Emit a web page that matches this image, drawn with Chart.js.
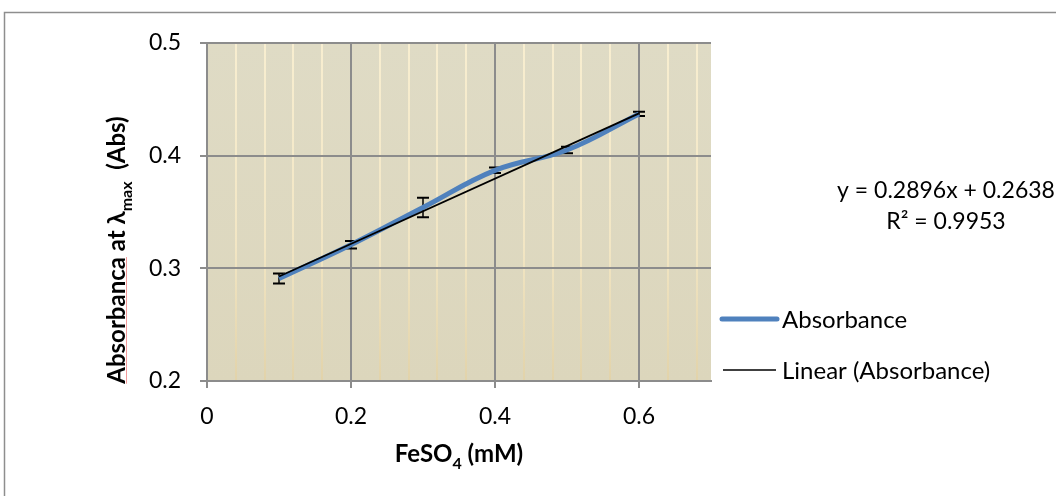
<!DOCTYPE html>
<html>
<head>
<meta charset="utf-8">
<title>Absorbance at λmax vs FeSO4</title>
<script src="https://cdn.jsdelivr.net/npm/chart.js@4.4.1/dist/chart.umd.min.js"></script>
<style>
  html, body { margin: 0; padding: 0; background: #fff; }
  #wrap { width: 1056px; height: 496px; position: relative; }
</style>
</head>
<body>
<div id="wrap"><canvas id="myChart" width="1056" height="496"></canvas></div>
<script>
// FeSO4 standard curve
var concentration = [0.1, 0.2, 0.3, 0.4, 0.5, 0.6];
var absorbance = [0.291, 0.321, 0.354, 0.387, 0.405, 0.437];
var errorBars = [0.0045, 0.0033, 0.0086, 0.0024, 0.0029, 0.0019];

// linear fit reported on the chart
var slope = 0.2896;
var intercept = 0.2638;
var rSquared = 0.9953;

var xTicks = [0, 0.04, 0.08, 0.12, 0.16, 0.2, 0.24, 0.28, 0.32, 0.36, 0.4, 0.44, 0.48, 0.52, 0.56, 0.6, 0.64, 0.68];
var xLabels = [0, 0.2, 0.4, 0.6];
var yTicks = [0.2, 0.3, 0.4, 0.5];

var FONT = "Lato, 'Noto Sans', 'DejaVu Sans', sans-serif";
var GRID_GREY = "#8c8c8c";

function isMajor(v) {
  return xLabels.some(function(m) { return Math.abs(m - v) < 1e-9; });
}

// measure + draw text runs with subscripts
function runsWidth(ctx, runs, size, subSize) {
  var w = 0;
  runs.forEach(function(r) {
    ctx.font = "bold " + (r.sub ? subSize : size) + "px " + FONT;
    w += ctx.measureText(r.t).width;
  });
  return w;
}
function drawRuns(ctx, runs, x, y, size, subSize) {
  runs.forEach(function(r) {
    ctx.font = "bold " + (r.sub ? subSize : size) + "px " + FONT;
    ctx.fillText(r.t, x, r.sub ? y + size * 0.28 : y);
    x += ctx.measureText(r.t).width;
  });
}

var fitLine = [
  { x: concentration[0], y: slope * concentration[0] + intercept },
  { x: concentration[concentration.length - 1], y: slope * concentration[concentration.length - 1] + intercept }
];

var extras = {
  id: "extras",
  beforeDraw: function(chart) {
    var ctx = chart.ctx, a = chart.chartArea;
    var g = ctx.createLinearGradient(0, a.top, 0, a.bottom);
    g.addColorStop(0, "#dfdbc5");
    g.addColorStop(1, "#dcd6bc");
    ctx.save();
    ctx.fillStyle = "#fff";
    ctx.fillRect(0, 0, chart.width, chart.height);
    ctx.fillStyle = g;
    ctx.fillRect(a.left, a.top, a.right - a.left, a.bottom - a.top);
    ctx.restore();
  },
  beforeDatasetsDraw: function(chart) {
    var ctx = chart.ctx, xs = chart.scales.x, ys = chart.scales.y;
    ctx.save();
    ctx.strokeStyle = "#000";
    for (var i = 0; i < concentration.length; i++) {
      var px = xs.getPixelForValue(concentration[i]);
      var top = ys.getPixelForValue(absorbance[i] + errorBars[i]);
      var bot = ys.getPixelForValue(absorbance[i] - errorBars[i]);
      ctx.lineWidth = 1.5;
      ctx.beginPath();
      ctx.moveTo(px, top); ctx.lineTo(px, bot);
      ctx.stroke();
      ctx.lineWidth = 2;
      ctx.beginPath();
      ctx.moveTo(px - 6, top); ctx.lineTo(px + 6, top);
      ctx.moveTo(px - 6, bot); ctx.lineTo(px + 6, bot);
      ctx.stroke();
    }
    ctx.restore();
  },
  afterDraw: function(chart) {
    var ctx = chart.ctx, a = chart.chartArea;
    ctx.save();

    // outer frame
    ctx.strokeStyle = "#8e8e8e";
    ctx.lineWidth = 1.5;
    ctx.beginPath();
    ctx.moveTo(4.5, chart.height);
    ctx.lineTo(4.5, 12.5);
    ctx.lineTo(chart.width, 12.5);
    ctx.stroke();

    ctx.fillStyle = "#000";
    ctx.textBaseline = "alphabetic";

    // x axis title
    var xRuns = [{ t: "FeSO" }, { t: "4", sub: true }, { t: " (mM)" }];
    var xw = runsWidth(ctx, xRuns, 24, 16);
    drawRuns(ctx, xRuns, (a.left + a.right) / 2 - xw / 2, 462, 24, 16);

    // y axis title
    var yRuns = [{ t: "Absorbanca at λ" }, { t: "max", sub: true }, { t: "  (Abs)" }];
    var yw = runsWidth(ctx, yRuns, 24, 16);
    ctx.save();
    ctx.translate(125, 250);
    ctx.rotate(-Math.PI / 2);
    drawRuns(ctx, yRuns, -yw / 2, 0, 24, 16);
    ctx.font = "bold 24px " + FONT;
    var uw = ctx.measureText("Absorbanca").width;
    ctx.strokeStyle = "#f29a9a";
    ctx.lineWidth = 1;
    ctx.beginPath();
    ctx.moveTo(-yw / 2, 1.5);
    ctx.lineTo(-yw / 2 + uw, 1.5);
    ctx.stroke();
    ctx.restore();

    // legend
    var lx = a.right + 11;
    ctx.font = "24px " + FONT;
    ctx.textBaseline = "middle";
    ctx.lineCap = "round";
    ctx.strokeStyle = chart.data.datasets[1].borderColor;
    ctx.lineWidth = 5;
    ctx.beginPath();
    ctx.moveTo(lx, 319); ctx.lineTo(lx + 55, 319);
    ctx.stroke();
    ctx.fillText(chart.data.datasets[1].label, lx + 60, 320);
    ctx.lineCap = "butt";
    ctx.strokeStyle = chart.data.datasets[0].borderColor;
    ctx.lineWidth = 1.5;
    ctx.beginPath();
    ctx.moveTo(lx + 1, 370); ctx.lineTo(lx + 54, 370);
    ctx.stroke();
    ctx.fillText(chart.data.datasets[0].label, lx + 60, 371);

    // fit equation
    ctx.font = "23px " + FONT;
    ctx.textAlign = "center";
    ctx.fillText("y = " + slope.toFixed(4) + "x + " + intercept.toFixed(4), 946, 191);
    ctx.fillText("R² = " + rSquared.toFixed(4), 946, 222);
    ctx.restore();
  }
};

Chart.defaults.font.family = FONT;
Chart.defaults.animation = false;

var chart = new Chart(document.getElementById("myChart"), {
  type: "scatter",
  data: {
    datasets: [
      {
        label: "Linear (Absorbance)",
        data: fitLine,
        showLine: true,
        borderColor: "#000",
        borderWidth: 1.8,
        pointRadius: 0,
        order: 0
      },
      {
        label: "Absorbance",
        data: concentration.map(function(c, i) { return { x: c, y: absorbance[i] }; }),
        showLine: true,
        borderColor: "#4f81bd",
        borderWidth: 5,
        tension: 0.4,
        pointRadius: 0,
        order: 1
      }
    ]
  },
  options: {
    responsive: false,
    maintainAspectRatio: false,
    devicePixelRatio: 1,
    layout: { padding: { left: 0, top: 43, right: 345, bottom: 0 } },
    plugins: {
      legend: { display: false },
      tooltip: { enabled: false }
    },
    scales: {
      x: {
        type: "linear",
        min: 0,
        max: 0.7,
        afterBuildTicks: function(scale) {
          scale.ticks = xTicks.map(function(v) { return { value: v }; });
        },
        afterFit: function(scale) { scale.height = 115; },
        border: { display: true, color: GRID_GREY, width: 2 },
        grid: {
          lineWidth: 2,
          tickLength: 7,
          color: function(c) {
            if (!c.tick) return GRID_GREY;
            if (isMajor(c.tick.value)) return GRID_GREY;
            var a = c.chart.chartArea;
            if (!a) return "#f5ebcf";
            var g = c.chart.ctx.createLinearGradient(0, a.top, 0, a.bottom);
            g.addColorStop(0, "#f8eed0");
            g.addColorStop(0.6, "#f2e6c4");
            g.addColorStop(1, "#e2d3aa");
            return g;
          },
          tickColor: function(c) {
            return c.tick && isMajor(c.tick.value) ? GRID_GREY : "rgba(0,0,0,0)";
          }
        },
        ticks: {
          autoSkip: false,
          maxRotation: 0,
          padding: 15,
          color: "#000",
          font: { size: 23 },
          callback: function(v) { return isMajor(v) ? String(+v.toFixed(1)) : ""; }
        }
      },
      y: {
        type: "linear",
        min: 0.2,
        max: 0.5,
        afterBuildTicks: function(scale) {
          scale.ticks = yTicks.map(function(v) { return { value: v }; });
        },
        afterFit: function(scale) { scale.width = 207; },
        border: { display: true, color: GRID_GREY, width: 2 },
        grid: { color: GRID_GREY, lineWidth: 2, tickLength: 7 },
        ticks: {
          padding: 19,
          color: "#000",
          font: { size: 23 },
          callback: function(v) { return v.toFixed(1); }
        }
      }
    }
  },
  plugins: [extras]
});
</script>
</body>
</html>
